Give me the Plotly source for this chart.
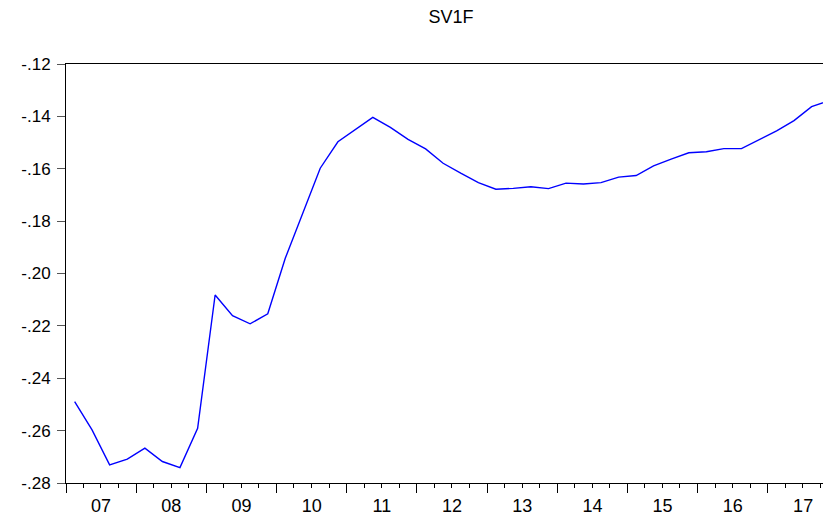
import pandas as pd
import plotly.graph_objects as go

# quarterly series, 2007Q1 - 2017Q4
quarters = pd.period_range("2007Q1", "2017Q4", freq="Q")
sv1f = [
    -0.2489, -0.2597, -0.2731, -0.2709, -0.2667, -0.2718, -0.2741, -0.2591,
    -0.2082, -0.2161, -0.2192, -0.2154, -0.1942, -0.1769, -0.1598, -0.1497,
    -0.1451, -0.1404, -0.1442, -0.1488, -0.1524, -0.1579, -0.1617, -0.1653,
    -0.1678, -0.1675, -0.1669, -0.1676, -0.1655, -0.1658, -0.1653, -0.1632,
    -0.1626, -0.1589, -0.1563, -0.1539, -0.1535, -0.1523, -0.1523, -0.1490,
    -0.1455, -0.1416, -0.1363, -0.1340,
]
y_ticks = [-0.28, -0.26, -0.24, -0.22, -0.20, -0.18, -0.16, -0.14, -0.12]
y_tick_text = ["-.28", "-.26", "-.24", "-.22", "-.20", "-.18", "-.16", "-.14", "-.12"]

# plot each quarter at the middle of its period
x = [p.start_time + (p.end_time - p.start_time) / 2 for p in quarters]

fig = go.Figure()
fig.add_trace(go.Scatter(x=x, y=sv1f, mode="lines",
                         line=dict(color="#0000FF", width=1.4)))

# the page puts the figure 8px in from the top-left corner
W, H = 823, 511
font = "Liberation Sans, Arial, sans-serif"
fig.update_layout(
    width=W, height=H,
    margin=dict(l=58, r=0, t=56, b=36),
    paper_bgcolor="white", plot_bgcolor="white",
    showlegend=False,
    font=dict(family=font, color="black"),
    title=dict(text="SV1F", x=443 / W, xref="container", xanchor="center",
               y=1 - 9 / H, yref="container", yanchor="middle",
               font=dict(size=18)),
    xaxis=dict(
        type="date",
        range=["2007-01-01", "2017-11-25"],
        tickformat="%y", dtick="M12", tick0="2007-01-01",
        ticklabelmode="period",
        ticks="outside", ticklen=9, tickcolor="black", tickwidth=1,
        minor=dict(dtick="M3", ticks="outside", ticklen=4, tickcolor="black"),
        showgrid=False, zeroline=False,
        showline=True, linecolor="black", linewidth=1, mirror=True,
        tickfont=dict(size=18),
        ticklabelstandoff=-3,
        automargin=False,
    ),
    yaxis=dict(
        range=[-0.28, -0.12],
        tickvals=y_ticks, ticktext=y_tick_text,
        ticks="outside", ticklen=8, tickcolor="#555555",
        showgrid=False, zeroline=False,
        showline=True, linecolor="black", linewidth=1,
        tickfont=dict(size=17),
        ticklabelstandoff=3,
        automargin=False,
    ),
)

fig.write_html("out.html")
